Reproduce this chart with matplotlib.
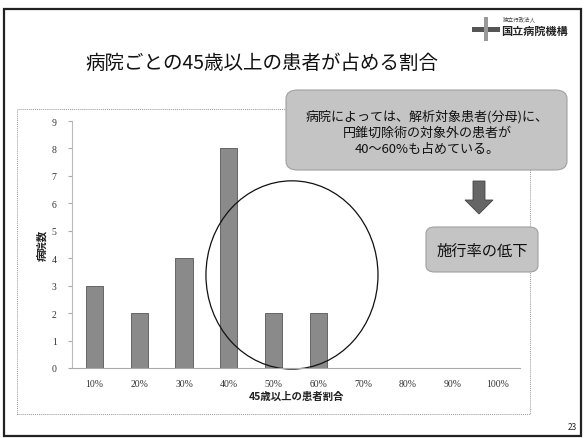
import matplotlib.pyplot as plt
from matplotlib.patches import Rectangle, FancyBboxPatch, Ellipse, FancyArrow

plt.rcParams['font.family'] = ['Noto Sans CJK JP', 'DejaVu Sans']

# hospitals per share of patients aged 45+
share_labels = ['10%', '20%', '30%', '40%', '50%', '60%', '70%', '80%', '90%', '100%']
hospital_counts = [3, 2, 4, 8, 2, 2, 0, 0, 0, 0]
y_ticks = list(range(0, 10))

W, H = 585, 439
fig = plt.figure(figsize=(W / 100, H / 100), dpi=100)


def fx(px):
    return px / W


def fy(py):
    return 1 - py / H


# slide frame
fig.patches.append(Rectangle((fx(4), fy(437)), fx(577), 427 / H, transform=fig.transFigure,
                             fill=False, edgecolor='#222222', linewidth=1.6))
# chart frame
fig.patches.append(Rectangle((fx(17), fy(415)), fx(513), 305 / H, transform=fig.transFigure,
                             fill=False, edgecolor='#999999', linewidth=0.7, linestyle=(0, (1, 1))))

fig.text(fx(262), fy(63), '病院ごとの45歳以上の患者が占める割合', fontsize=14, style='italic',
         ha='center', va='center', color='#111111')

# logo
fig.text(fx(503), fy(20), '独立行政法人', fontsize=4, ha='left', va='center', color='#444444')
fig.text(fx(501), fy(31), '国立病院機構', fontsize=8, fontweight='bold', ha='left', va='center', color='#222222')
fig.patches.append(Rectangle((fx(472), fy(33)), fx(28), 5 / H, transform=fig.transFigure,
                             facecolor='#555555', edgecolor='none'))
fig.patches.append(Rectangle((fx(484), fy(42)), fx(4), 24 / H, transform=fig.transFigure,
                             facecolor='#999999', edgecolor='none'))

ax = fig.add_axes([fx(72), fy(369), fx(448), (369 - 122) / H])
x = list(range(1, len(share_labels) + 1))
ax.bar(x, hospital_counts, width=0.38, color='#8a8a8a', edgecolor='#555555', linewidth=0.6)
ax.set_xlim(0.5, 10.5)
ax.set_ylim(0, 9)
ax.set_xticks(x)
ax.set_xticklabels(share_labels, family=['Liberation Serif'], fontsize=7, color='#333333')
ax.set_yticks(y_ticks)
ax.set_yticklabels([str(v) for v in y_ticks], family=['Liberation Serif'], fontsize=7, color='#333333')
ax.tick_params(axis='x', length=0, pad=8)
ax.tick_params(axis='y', length=3, color='#aaaaaa', pad=8)
for side in ['top', 'right']:
    ax.spines[side].set_visible(False)
ax.spines['left'].set_color('#bbbbbb')
ax.spines['bottom'].set_color('#aaaaaa')
ax.spines['bottom'].set_linestyle((0, (2, 1)))
ax.set_xlabel('45歳以上の患者割合', fontsize=7.5, fontweight='bold', color='#222222', labelpad=2)
ax.set_ylabel('病院数', fontsize=7.5, fontweight='bold', color='#222222', labelpad=3)

ax.add_patch(Ellipse((5.41, 3.39), 3.84, 6.86, fill=False, edgecolor='#111111', linewidth=0.9,
                     clip_on=False))

# callout boxes
fig.patches.append(FancyBboxPatch((fx(286), fy(171)), fx(281), 80 / H, transform=fig.transFigure,
                                  boxstyle='round,pad=0,rounding_size=0.02',
                                  facecolor='#c4c4c4', edgecolor='#a0a0a0', linewidth=0.8))
fig.text(fx(427), fy(133), '病院によっては、解析対象患者(分母)に、\n円錐切除術の対象外の患者が\n40～60%も占めている。',
         fontsize=9.4, ha='center', va='center', color='#111111', linespacing=1.35)

fig.patches.append(FancyArrow(fx(479), fy(182), 0, -33 / H, width=fx(12), head_width=fx(28),
                              head_length=14 / H, length_includes_head=True, transform=fig.transFigure,
                              facecolor='#666666', edgecolor='#444444', linewidth=0.6))

fig.patches.append(FancyBboxPatch((fx(426), fy(273)), fx(112), 45 / H, transform=fig.transFigure,
                                  boxstyle='round,pad=0,rounding_size=0.015',
                                  facecolor='#c4c4c4', edgecolor='#a0a0a0', linewidth=0.8))
fig.text(fx(482), fy(251), '施行率の低下', fontsize=11, ha='center', va='center', color='#111111')

fig.text(fx(572), fy(428), '23', fontsize=6, ha='center', va='center', color='#222222')

fig.savefig('out.png', dpi=100)
